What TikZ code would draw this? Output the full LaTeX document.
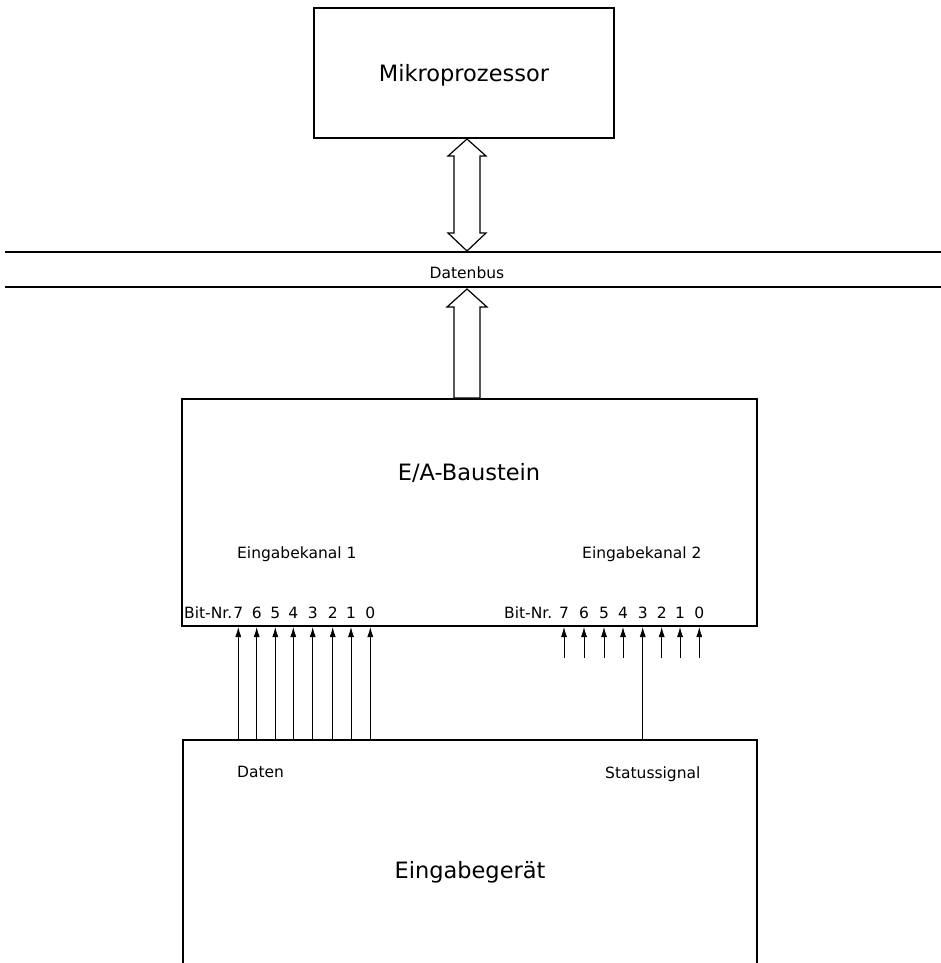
\documentclass[tikz,border=0pt]{standalone}
\usepackage{fontspec}
\setmainfont{DejaVu Sans}
\usetikzlibrary{arrows.meta,calc}
\begin{document}
\begin{tikzpicture}[x=1pt,y=-1pt,
  box/.style={draw,line width=2pt,inner sep=0pt,anchor=north west},
  big/.style={font=\fontsize{22.5}{26}\selectfont,inner sep=0pt},
  small/.style={font=\fontsize{15.5}{18}\selectfont,inner sep=0pt},
  sig/.style={line width=0.8pt,-{Latex[length=10pt,width=6pt]}},
  busline/.style={line width=1.3pt},
  fat/.style={line width=1.2pt,fill=white,line join=miter}]
\clip (0,0) rectangle (941,963);

% blocks
\node[box,minimum width=300pt,minimum height=130pt] (mp) at (313,7) {};
\node[box,minimum width=575pt,minimum height=227pt] (ea) at (181,398) {};
\node[box,minimum width=574pt,minimum height=240pt] (eg) at (182,739) {};

% block titles
\node[big,anchor=base] (mptext) at (464,82) {Mikroprozessor};
\node[big,anchor=base] (eatext) at (469,480) {E/A-Baustein};
\node[big,anchor=base] (egtext) at (470,878) {Eingabegerät};

% data bus
\coordinate (busTL) at (5,252);
\coordinate (busTR) at (941,252);
\coordinate (busBL) at (5,287);
\coordinate (busBR) at (941,287);
\draw[busline] (busTL) -- (busTR);
\draw[busline] (busBL) -- (busBR);
\node[small,anchor=base] (bustext) at (467,278) {Datenbus};

% wide double arrow: processor <-> bus
\coordinate (dt) at (467,139);
\coordinate (db) at (467,251);
\draw[fat] (dt) -- ($(dt)+(-19,17)$) -- ($(dt)+(-13,17)$) -- ($(db)+(-13,-18)$)
  -- ($(db)+(-19,-18)$) -- (db) -- ($(db)+(19,-18)$) -- ($(db)+(13,-18)$)
  -- ($(dt)+(13,17)$) -- ($(dt)+(19,17)$) -- cycle;

% wide arrow: I/O chip -> bus
\coordinate (ut) at (467,289);
\coordinate (ub) at (ea.north -| ut);
\draw[fat] (ut) -- ($(ut)+(-20,18)$) -- ($(ut)+(-13,18)$) -- ($(ub)+(-13,0)$)
  -- ($(ub)+(13,0)$) -- ($(ut)+(13,18)$) -- ($(ut)+(20,18)$) -- cycle;

% input channels
\node[small,anchor=base west] (k1) at (237,558) {Eingabekanal 1};
\node[small,anchor=base west] (k2) at (582,558) {Eingabekanal 2};
\node[small,anchor=base west] (bn1) at (184,618) {Bit-Nr.};
\node[small,anchor=base west] (bn2) at (504,618) {Bit-Nr.};

\foreach \n/\x in {7/238.3,6/256.7,5/275.3,4/293.3,3/312.7,2/332.7,1/351,0/370.3}{
  \node[small,anchor=base] (l\n) at (\x,618) {\n};
  \draw[sig] (eg.north -| l\n) -- (ea.south -| l\n);
}
\foreach \n/\x in {7/564,6/584,5/604,4/623,3/642.7,2/661.7,1/680,0/699.3}{
  \node[small,anchor=base] (r\n) at (\x,618) {\n};
}
\foreach \n in {7,6,5,4,2,1,0}{
  \draw[sig] ($(ea.south -| r\n)+(0,31)$) -- (ea.south -| r\n);
}
\draw[sig] (eg.north -| r3) -- (ea.south -| r3);

% device signals
\node[small,anchor=base west] (daten) at (237,777) {Daten};
\node[small,anchor=base west] (status) at (605,778) {Statussignal};
\end{tikzpicture}
\end{document}
